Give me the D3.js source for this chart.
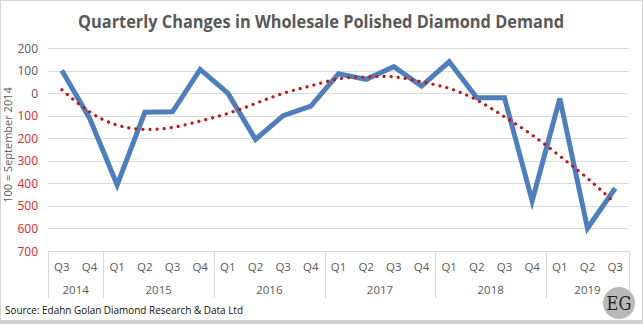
<!DOCTYPE html>
<html>
<head>
<meta charset="utf-8">
<script src="https://cdn.jsdelivr.net/npm/d3@7"></script>
<style>
  body { margin: 0; background: #fff; }
  text { font-family: "Open Sans", "Noto Sans", sans-serif; }
</style>
</head>
<body>
<div class="usable"></div>
<script>
// datos
const years = ["2014", "2015", "2016", "2017", "2018", "2019"]
const quarters = ["Q3", "Q4",
  "Q1", "Q2", "Q3", "Q4",
  "Q1", "Q2", "Q3", "Q4",
  "Q1", "Q2", "Q3", "Q4",
  "Q1", "Q2", "Q3", "Q4",
  "Q1", "Q2", "Q3"]
const quartersPerYear = [2, 4, 4, 4, 4, 3]
const demand = [100, -110, -407, -85, -83, 105, 0, -205, -100, -58,
  86, 61, 117, 31, 139, -21, -21, -478, -24, -599, -422]
const trend = [15, -83, -142, -161, -152, -124, -90, -46, -1, 32,
  63, 72, 72, 50, 21, -31, -105, -186, -279, -378, -488]
const yTicks = [200, 100, 0, -100, -200, -300, -400, -500, -600, -700]

const width = 643,
  height = 324

const svg = d3.select(".usable").append("svg")
  .attr("width", width)
  .attr("height", height)

// marco
svg.append("rect").attr("x", 0.5).attr("y", 0.5)
  .attr("width", width - 1).attr("height", height - 1)
  .attr("fill", "none").attr("stroke", "#d4d4d4")
svg.append("rect").attr("x", 0).attr("y", 320)
  .attr("width", width).attr("height", 4).attr("fill", "#d0d0d0")

const x = d3.scaleBand().domain(d3.range(quarters.length)).range([48, 629])
const y = d3.scaleLinear().domain([-700, 200]).range([251, 48])

// titulo
svg.append("text").text("Quarterly Changes in Wholesale Polished Diamond Demand")
  .attr("x", 321).attr("y", 28).attr("text-anchor", "middle")
  .attr("font-size", 17).attr("font-weight", "bold").attr("fill", "#595959")
  .attr("textLength", 486).attr("lengthAdjust", "spacingAndGlyphs")

// lineas de grilla
svg.append("g").selectAll("line").data(yTicks).join("line")
  .attr("x1", 48).attr("x2", 629)
  .attr("y1", d => Math.round(y(d)) + 0.5).attr("y2", d => Math.round(y(d)) + 0.5)
  .attr("stroke", "#d9d9d9").attr("stroke-width", 1)

// eje y
svg.append("g").selectAll("text").data(yTicks).join("text")
  .text(d => Math.abs(d))
  .attr("x", 38).attr("y", d => y(d) + 4.5)
  .attr("text-anchor", "end").attr("font-size", 12)
  .attr("fill", d => d < 0 ? "#d42a2a" : "#595959")

svg.append("text").text("100 = September 2014")
  .attr("transform", "translate(12,145) rotate(-90)")
  .attr("text-anchor", "middle").attr("font-size", 11).attr("fill", "#595959")

// eje x de categorias
const xAxis = svg.append("g")
xAxis.selectAll("text.q").data(quarters).join("text")
  .attr("class", "q").text(d => d)
  .attr("x", (d, i) => x(i) + x.bandwidth() / 2).attr("y", 271)
  .attr("text-anchor", "middle").attr("font-size", 11.5).attr("fill", "#595959")

let bounds = [0]
quartersPerYear.forEach(n => bounds.push(bounds[bounds.length - 1] + n))
xAxis.selectAll("line.sep").data(bounds).join("line")
  .attr("class", "sep")
  .attr("x1", d => Math.round(48 + d * x.step()) + 0.5)
  .attr("x2", d => Math.round(48 + d * x.step()) + 0.5)
  .attr("y1", 251).attr("y2", 298)
  .attr("stroke", "#d9d9d9")

xAxis.selectAll("text.yr").data(years).join("text")
  .attr("class", "yr").text(d => d)
  .attr("x", (d, i) => 48 + (bounds[i] + bounds[i + 1]) / 2 * x.step())
  .attr("y", 294)
  .attr("text-anchor", "middle").attr("font-size", 11.5).attr("fill", "#595959")

// serie principal
const line = d3.line()
  .x((d, i) => x(i) + x.bandwidth() / 2)
  .y(d => y(d))

svg.append("path").datum(demand)
  .attr("d", line)
  .attr("fill", "none").attr("stroke", "#4f7fbb")
  .attr("stroke-width", 5).attr("stroke-linejoin", "miter")

// linea de tendencia punteada
const trendLine = d3.line()
  .x((d, i) => x(i) + x.bandwidth() / 2)
  .y(d => y(d))
  .curve(d3.curveNatural)

svg.append("path").datum(trend)
  .attr("d", trendLine)
  .attr("fill", "none").attr("stroke", "#c01818")
  .attr("stroke-width", 3.2).attr("stroke-linecap", "round")
  .attr("stroke-dasharray", "0.1 7")

// fuente
svg.append("text").text("Source: Edahn Golan Diamond Research & Data Ltd")
  .attr("x", 5).attr("y", 314).attr("font-size", 11).attr("fill", "#111")
  .attr("textLength", 238).attr("lengthAdjust", "spacingAndGlyphs")

// logo EG
svg.append("circle").attr("cx", 619).attr("cy", 303).attr("r", 16)
  .attr("fill", "#b9b9b9")
svg.append("text").text("EG")
  .attr("x", 619).attr("y", 310).attr("text-anchor", "middle")
  .attr("font-size", 18).attr("fill", "#222")
  .style("font-family", "'DejaVu Serif Condensed', 'Liberation Serif', serif")
</script>
</body>
</html>
